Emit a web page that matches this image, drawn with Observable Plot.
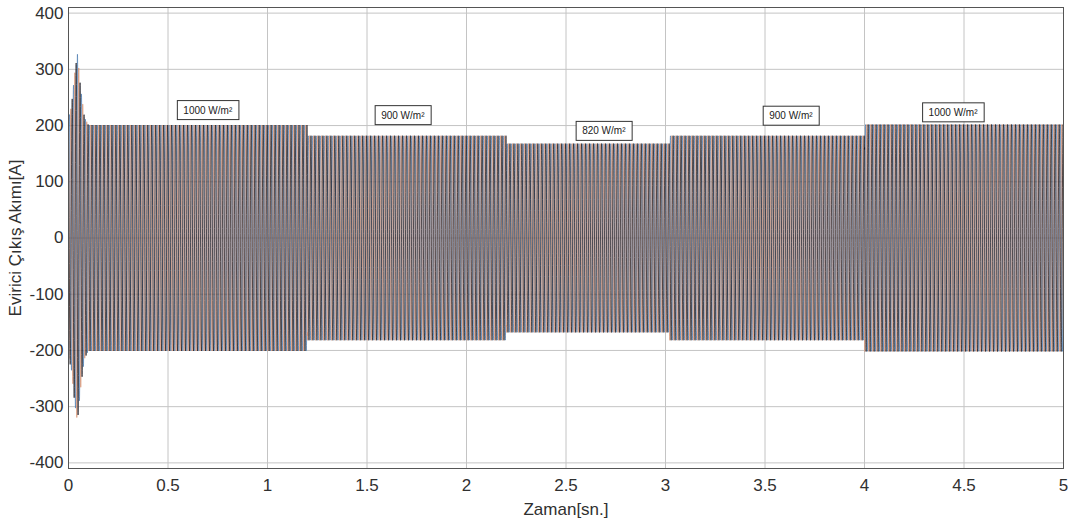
<!DOCTYPE html>
<html><head><meta charset="utf-8">
<script src="https://cdn.jsdelivr.net/npm/d3@7"></script>
<script src="https://cdn.jsdelivr.net/npm/@observablehq/plot@0.6"></script>
<style>html,body{margin:0;padding:0;background:#fff;}</style>
</head><body><div id="chart"></div>
<script>
// Irradiance segments (s) and current amplitude (A)
const segStart = [0, 1.2, 2.2, 3.02, 4.0];
const segEnd = [1.2, 2.2, 3.02, 4.0, 5.0];
const segAmp = [201, 182, 168, 182, 202];
// Start-up transient envelope (s, A)
const transientT = [0, 0.015, 0.03, 0.045, 0.06, 0.08, 0.1];
const transientAmp = [212, 235, 290, 328, 270, 215, 201];
// Annotation labels
const irradiance = ["1000 W/m²", "900 W/m²", "820 W/m²", "900 W/m²", "1000 W/m²"];
const labelT = [0.70, 1.68, 2.69, 3.63, 4.445];
const labelY = [227, 218, 190, 217, 223];
// Three phases
const freq = 50;
const phases = ["A", "B", "C"];
const phaseShift = [0, -120, 120];
const colors = ["#4d7db0", "#d9906e", "#14141e"];
// Ticks
const xTicks = [0, 0.5, 1, 1.5, 2, 2.5, 3, 3.5, 4, 4.5, 5];
const yTicks = [-400, -300, -200, -100, 0, 100, 200, 300, 400];

function envelope(t) {
  const last = transientT.length - 1;
  if (t < transientT[last]) {
    let j = 0;
    while (t > transientT[j + 1]) j++;
    const f = (t - transientT[j]) / (transientT[j + 1] - transientT[j]);
    return transientAmp[j] + f * (transientAmp[j + 1] - transientAmp[j]);
  }
  for (let s = 0; s < segStart.length; s++) if (t >= segStart[s] && t <= segEnd[s]) return segAmp[s];
  return segAmp[segAmp.length - 1];
}

const dt = 0.0004;
const rows = [];
phases.forEach((p, k) => {
  const n = Math.round(5 / dt);
  for (let i = 0; i <= n; i++) {
    const t = i * dt;
    rows.push({t, cur: envelope(t) * Math.sin(2 * Math.PI * freq * t + phaseShift[k] * Math.PI / 180), phase: p});
  }
});
const labels = irradiance.map((l, i) => ({label: l, t: labelT[i], v: labelY[i]}));

const svg = Plot.plot({
  width: 1075, height: 523,
  marginLeft: 68, marginRight: 12, marginTop: 7, marginBottom: 55,
  style: {fontFamily: "'Liberation Sans', Arial, sans-serif", fontSize: "17px", color: "#303030", background: "#fff"},
  x: {domain: [0, 5]},
  y: {domain: [-410, 410]},
  color: {domain: phases, range: colors},
  marks: [
    Plot.gridX(xTicks, {stroke: "#c4c4c4", strokeOpacity: 1}),
    Plot.gridY(yTicks, {stroke: "#c4c4c4", strokeOpacity: 1}),
    Plot.line(rows, {x: "t", y: "cur", z: "phase", stroke: "phase", strokeWidth: 0.7}),
    Plot.frame({stroke: "#555"}),
    Plot.axisX(xTicks, {tickSize: 0, tickPadding: 10, tickFormat: d => String(d), label: "Zaman[sn.]", labelAnchor: "center", labelOffset: 46, labelArrow: "none"}),
    Plot.axisY(yTicks, {tickSize: 0, tickPadding: 5, tickFormat: d => String(d), label: "Evirici Çıkış Akımı[A]", labelAnchor: "center", labelOffset: 60, labelArrow: "none"}),
    Plot.text(labels, {x: "t", y: "v", text: "label", fontSize: 10, fill: "#222"})
  ]
});
document.getElementById("chart").appendChild(svg);

// draw boxes around annotation labels
const NS = "http://www.w3.org/2000/svg";
svg.querySelectorAll("text").forEach(tx => {
  if (!tx.textContent.includes("W/m")) return;
  const b = tx.getBBox();
  const r = document.createElementNS(NS, "rect");
  r.setAttribute("x", b.x - 6);
  r.setAttribute("y", b.y - 4);
  r.setAttribute("width", b.width + 12);
  r.setAttribute("height", b.height + 8);
  r.setAttribute("fill", "#fff");
  r.setAttribute("stroke", "#333");
  r.setAttribute("stroke-width", "1");
  const tr = tx.getAttribute("transform");
  if (tr) r.setAttribute("transform", tr);
  tx.parentNode.insertBefore(r, tx);
});
</script>
</body></html>
